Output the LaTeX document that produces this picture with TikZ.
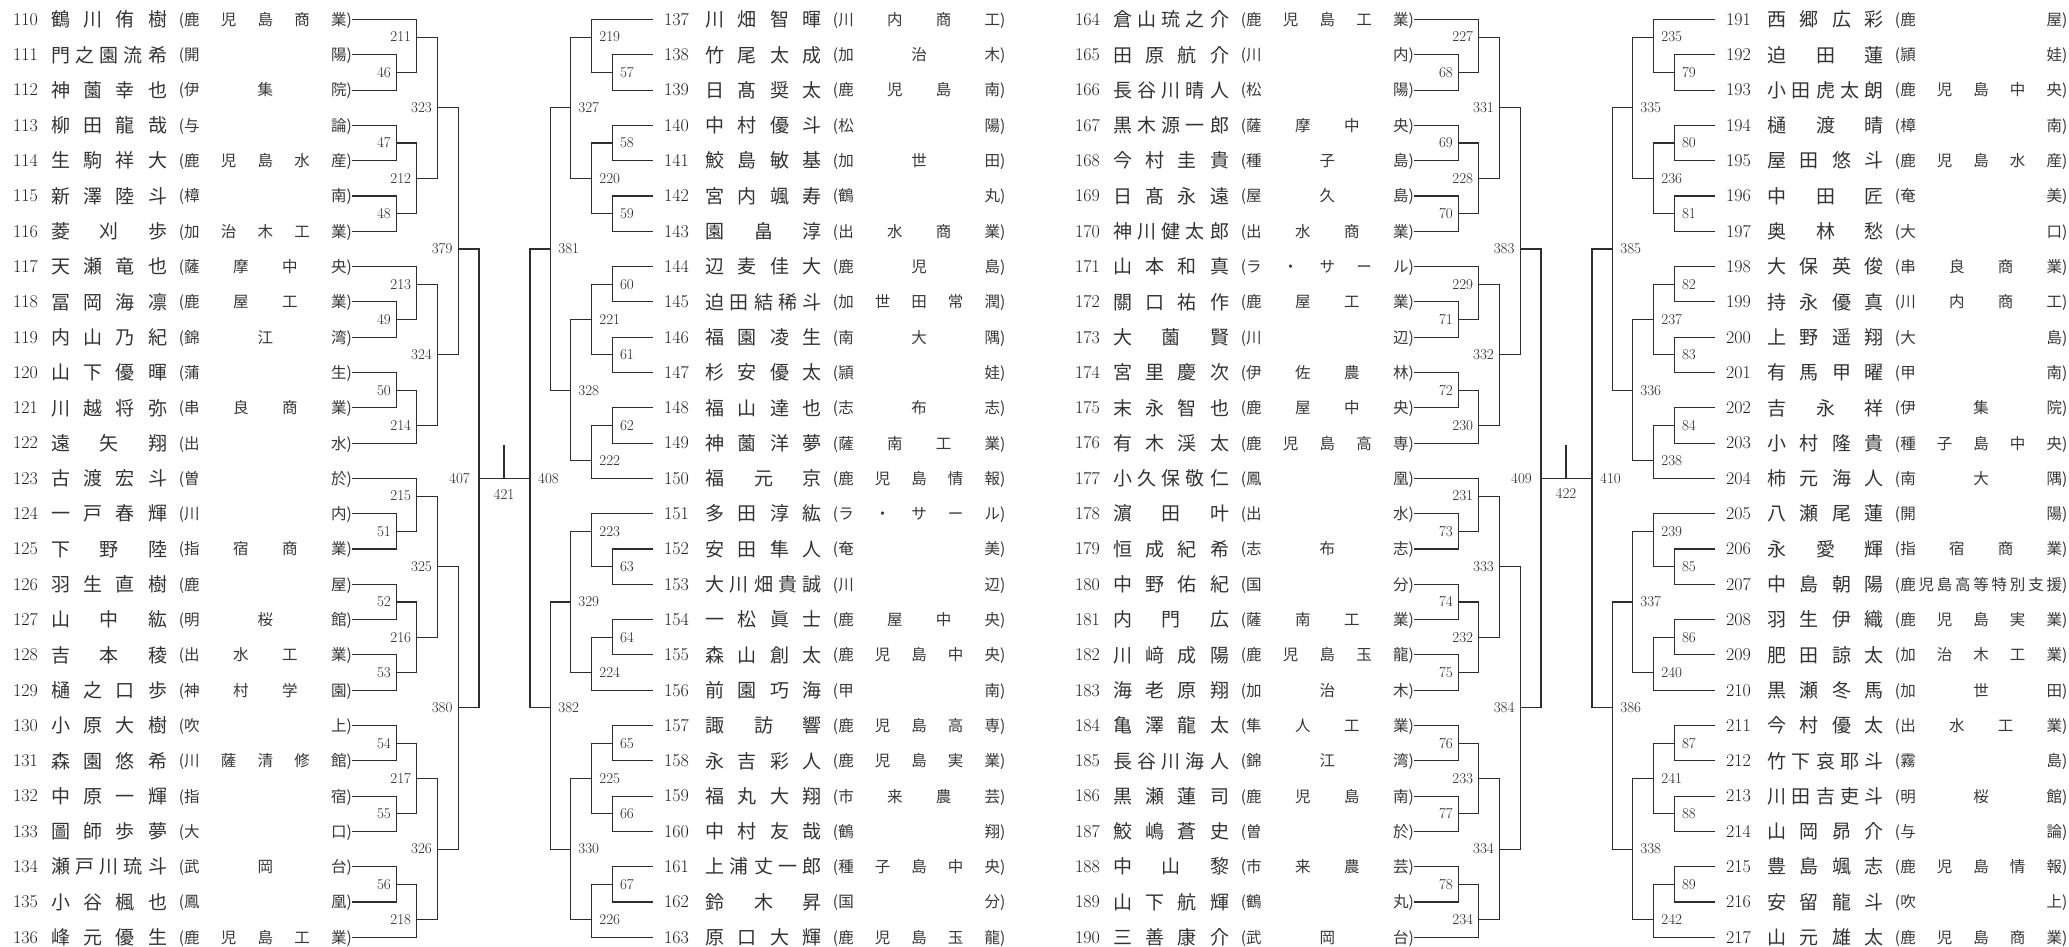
\documentclass[tikz,border=0pt]{standalone}
\usepackage{fontspec}
\newfontfamily\jp{Noto Sans CJK JP}
\tikzset{
  br/.style={line width=1.1pt, draw=black!82},
  lab/.style={font=\fontsize{15}{15}\selectfont, inner sep=0pt, text=black!85, text height=9.7pt, text depth=0pt},
  numst/.style={font=\fontsize{18}{18}\selectfont, anchor=west, inner sep=0pt, text=black!88, text height=11.6pt, text depth=0pt},
  namest/.style={font=\jp\fontsize{19}{19}\selectfont, inner sep=0pt, text=black!80, text height=15.8pt, text depth=1.3pt},
  schst/.style={font=\jp\fontsize{15.5}{15.5}\selectfont, inner sep=0pt, text=black!78, text height=12.9pt, text depth=1.1pt},
}
\newcommand{\SideLeft}{\def\ppNumx{13}\def\ppNa{51}\def\ppNb{167}\def\ppSa{184.2}\def\ppSb{346.5}\def\ppLx{352}}
\newcommand{\SideRight}{\def\ppNumx{664}\def\ppNa{705.5}\def\ppNb{821.5}\def\ppSa{838.3}\def\ppSb{1000}\def\ppLx{653.3}}
% #1 row, #2 number, #3 name count, #4 name chars, #5 school count, #6 school chars
\newcommand{\PLrow}[6]{%
  \pgfmathsetmacro\ppy{19.5+35.3*#1}
  \node[numst] (num#2) at (\ppX+\ppNumx,\ppy) {#2};
  \foreach \c [count=\k] in {#4} {
    \pgfmathsetmacro\cx{\ppX+\ppNa+9.5+(\k-1)*(\ppNb-\ppNa-19)/(#3-1)}
    \node[namest] (nm#2-\k) at (\cx,\ppy) {\c};
  }
  \foreach \c [count=\k] in {#6} {
    \pgfmathsetmacro\cx{\ppX+\ppSa+7.75+(\k-1)*(\ppSb-\ppSa-15.5)/(#5-1)}
    \node[schst] (sc#2-\k) at (\cx,\ppy) {\c};
  }
  \node[schst,anchor=east] (lp#2) at (\ppX+\ppSa,\ppy) {(};
  \node[schst,anchor=west] (rp#2) at (\ppX+\ppSb,\ppy) {)};
  \coordinate (p#2) at (\ppX+\ppLx,\ppy);
}
% #1 name, #2 child A, #3 child B, #4 x, #5 row of output, #6 label gap
\newcommand{\MTleft}[6]{%
  \pgfmathsetmacro\ppy{19.5+35.3*#5}
  \coordinate (m#1) at (#4,\ppy);
  \draw[br] (#2) -- (#2 -| m#1) -- (#3 -| m#1) -- (#3);
  \node[lab,anchor=east] (l#1) at ([xshift=-#6]m#1) {#1};
}
\newcommand{\MTright}[6]{%
  \pgfmathsetmacro\ppy{19.5+35.3*#5}
  \coordinate (m#1) at (#4,\ppy);
  \draw[br] (#2) -- (#2 -| m#1) -- (#3 -| m#1) -- (#3);
  \node[lab,anchor=west] (l#1) at ([xshift=#6]m#1) {#1};
}
\begin{document}
\begin{tikzpicture}[x=1pt,y=-1pt]
\fill[white] (0,0) rectangle (2069,947);
\useasboundingbox (0,0) rectangle (2069,947);

% ---------------- block 1 ----------------
\def\ppX{0}\SideLeft
\PLrow{0}{110}{4}{鶴,川,侑,樹}{5}{鹿,児,島,商,業}
\PLrow{1}{111}{5}{門,之,園,流,希}{2}{開,陽}
\PLrow{2}{112}{4}{神,薗,幸,也}{3}{伊,集,院}
\PLrow{3}{113}{4}{柳,田,龍,哉}{2}{与,論}
\PLrow{4}{114}{4}{生,駒,祥,大}{5}{鹿,児,島,水,産}
\PLrow{5}{115}{4}{新,澤,陸,斗}{2}{樟,南}
\PLrow{6}{116}{3}{菱,刈,歩}{5}{加,治,木,工,業}
\PLrow{7}{117}{4}{天,瀬,竜,也}{4}{薩,摩,中,央}
\PLrow{8}{118}{4}{冨,岡,海,凛}{4}{鹿,屋,工,業}
\PLrow{9}{119}{4}{内,山,乃,紀}{3}{錦,江,湾}
\PLrow{10}{120}{4}{山,下,優,暉}{2}{蒲,生}
\PLrow{11}{121}{4}{川,越,将,弥}{4}{串,良,商,業}
\PLrow{12}{122}{3}{遠,矢,翔}{2}{出,水}
\PLrow{13}{123}{4}{古,渡,宏,斗}{2}{曽,於}
\PLrow{14}{124}{4}{一,戸,春,輝}{2}{川,内}
\PLrow{15}{125}{3}{下,野,陸}{4}{指,宿,商,業}
\PLrow{16}{126}{4}{羽,生,直,樹}{2}{鹿,屋}
\PLrow{17}{127}{3}{山,中,紘}{3}{明,桜,館}
\PLrow{18}{128}{3}{吉,本,稜}{4}{出,水,工,業}
\PLrow{19}{129}{4}{樋,之,口,歩}{4}{神,村,学,園}
\PLrow{20}{130}{4}{小,原,大,樹}{2}{吹,上}
\PLrow{21}{131}{4}{森,園,悠,希}{5}{川,薩,清,修,館}
\PLrow{22}{132}{4}{中,原,一,輝}{2}{指,宿}
\PLrow{23}{133}{4}{圖,師,歩,夢}{2}{大,口}
\PLrow{24}{134}{5}{瀬,戸,川,琉,斗}{3}{武,岡,台}
\PLrow{25}{135}{4}{小,谷,楓,也}{2}{鳳,凰}
\PLrow{26}{136}{4}{峰,元,優,生}{5}{鹿,児,島,工,業}

% ---------------- block 2 ----------------
\def\ppX{0}\SideRight
\PLrow{0}{137}{4}{川,畑,智,暉}{4}{川,内,商,工}
\PLrow{1}{138}{4}{竹,尾,太,成}{3}{加,治,木}
\PLrow{2}{139}{4}{日,髙,奨,太}{4}{鹿,児,島,南}
\PLrow{3}{140}{4}{中,村,優,斗}{2}{松,陽}
\PLrow{4}{141}{4}{鮫,島,敏,基}{3}{加,世,田}
\PLrow{5}{142}{4}{宮,内,颯,寿}{2}{鶴,丸}
\PLrow{6}{143}{3}{園,畠,淳}{4}{出,水,商,業}
\PLrow{7}{144}{4}{辺,麦,佳,大}{3}{鹿,児,島}
\PLrow{8}{145}{5}{迫,田,結,稀,斗}{5}{加,世,田,常,潤}
\PLrow{9}{146}{4}{福,園,凌,生}{3}{南,大,隅}
\PLrow{10}{147}{4}{杉,安,優,太}{2}{頴,娃}
\PLrow{11}{148}{4}{福,山,達,也}{3}{志,布,志}
\PLrow{12}{149}{4}{神,薗,洋,夢}{4}{薩,南,工,業}
\PLrow{13}{150}{3}{福,元,京}{5}{鹿,児,島,情,報}
\PLrow{14}{151}{4}{多,田,淳,紘}{5}{ラ,・,サ,ー,ル}
\PLrow{15}{152}{4}{安,田,隼,人}{2}{奄,美}
\PLrow{16}{153}{5}{大,川,畑,貴,誠}{2}{川,辺}
\PLrow{17}{154}{4}{一,松,眞,士}{4}{鹿,屋,中,央}
\PLrow{18}{155}{4}{森,山,創,太}{5}{鹿,児,島,中,央}
\PLrow{19}{156}{4}{前,園,巧,海}{2}{甲,南}
\PLrow{20}{157}{3}{諏,訪,響}{5}{鹿,児,島,高,専}
\PLrow{21}{158}{4}{永,吉,彩,人}{5}{鹿,児,島,実,業}
\PLrow{22}{159}{4}{福,丸,大,翔}{4}{市,来,農,芸}
\PLrow{23}{160}{4}{中,村,友,哉}{2}{鶴,翔}
\PLrow{24}{161}{5}{上,浦,丈,一,郎}{5}{種,子,島,中,央}
\PLrow{25}{162}{3}{鈴,木,昇}{2}{国,分}
\PLrow{26}{163}{4}{原,口,大,輝}{5}{鹿,児,島,玉,龍}

% ---------------- block 3 ----------------
\def\ppX{1062}\SideLeft
\PLrow{0}{164}{5}{倉,山,琉,之,介}{5}{鹿,児,島,工,業}
\PLrow{1}{165}{4}{田,原,航,介}{2}{川,内}
\PLrow{2}{166}{5}{長,谷,川,晴,人}{2}{松,陽}
\PLrow{3}{167}{5}{黒,木,源,一,郎}{4}{薩,摩,中,央}
\PLrow{4}{168}{4}{今,村,圭,貴}{3}{種,子,島}
\PLrow{5}{169}{4}{日,髙,永,遠}{3}{屋,久,島}
\PLrow{6}{170}{5}{神,川,健,太,郎}{4}{出,水,商,業}
\PLrow{7}{171}{4}{山,本,和,真}{5}{ラ,・,サ,ー,ル}
\PLrow{8}{172}{4}{關,口,祐,作}{4}{鹿,屋,工,業}
\PLrow{9}{173}{3}{大,薗,賢}{2}{川,辺}
\PLrow{10}{174}{4}{宮,里,慶,次}{4}{伊,佐,農,林}
\PLrow{11}{175}{4}{末,永,智,也}{4}{鹿,屋,中,央}
\PLrow{12}{176}{4}{有,木,渓,太}{5}{鹿,児,島,高,専}
\PLrow{13}{177}{5}{小,久,保,敬,仁}{2}{鳳,凰}
\PLrow{14}{178}{3}{濵,田,叶}{2}{出,水}
\PLrow{15}{179}{4}{恒,成,紀,希}{3}{志,布,志}
\PLrow{16}{180}{4}{中,野,佑,紀}{2}{国,分}
\PLrow{17}{181}{3}{内,門,広}{4}{薩,南,工,業}
\PLrow{18}{182}{4}{川,﨑,成,陽}{5}{鹿,児,島,玉,龍}
\PLrow{19}{183}{4}{海,老,原,翔}{3}{加,治,木}
\PLrow{20}{184}{4}{亀,澤,龍,太}{4}{隼,人,工,業}
\PLrow{21}{185}{5}{長,谷,川,海,人}{3}{錦,江,湾}
\PLrow{22}{186}{4}{黒,瀬,蓮,司}{4}{鹿,児,島,南}
\PLrow{23}{187}{4}{鮫,嶋,蒼,史}{2}{曽,於}
\PLrow{24}{188}{3}{中,山,黎}{4}{市,来,農,芸}
\PLrow{25}{189}{4}{山,下,航,輝}{2}{鶴,丸}
\PLrow{26}{190}{4}{三,善,康,介}{3}{武,岡,台}

% ---------------- block 4 ----------------
\def\ppX{1062}\SideRight
\PLrow{0}{191}{4}{西,郷,広,彩}{2}{鹿,屋}
\PLrow{1}{192}{3}{迫,田,蓮}{2}{頴,娃}
\PLrow{2}{193}{5}{小,田,虎,太,朗}{5}{鹿,児,島,中,央}
\PLrow{3}{194}{3}{樋,渡,晴}{2}{樟,南}
\PLrow{4}{195}{4}{屋,田,悠,斗}{5}{鹿,児,島,水,産}
\PLrow{5}{196}{3}{中,田,匠}{2}{奄,美}
\PLrow{6}{197}{3}{奥,林,愁}{2}{大,口}
\PLrow{7}{198}{4}{大,保,英,俊}{4}{串,良,商,業}
\PLrow{8}{199}{4}{持,永,優,真}{4}{川,内,商,工}
\PLrow{9}{200}{4}{上,野,遥,翔}{2}{大,島}
\PLrow{10}{201}{4}{有,馬,甲,曜}{2}{甲,南}
\PLrow{11}{202}{3}{吉,永,祥}{3}{伊,集,院}
\PLrow{12}{203}{4}{小,村,隆,貴}{5}{種,子,島,中,央}
\PLrow{13}{204}{4}{柿,元,海,人}{3}{南,大,隅}
\PLrow{14}{205}{4}{八,瀬,尾,蓮}{2}{開,陽}
\PLrow{15}{206}{3}{永,愛,輝}{4}{指,宿,商,業}
\PLrow{16}{207}{4}{中,島,朝,陽}{9}{鹿,児,島,高,等,特,別,支,援}
\PLrow{17}{208}{4}{羽,生,伊,織}{5}{鹿,児,島,実,業}
\PLrow{18}{209}{4}{肥,田,諒,太}{5}{加,治,木,工,業}
\PLrow{19}{210}{4}{黒,瀬,冬,馬}{3}{加,世,田}
\PLrow{20}{211}{4}{今,村,優,太}{4}{出,水,工,業}
\PLrow{21}{212}{5}{竹,下,哀,耶,斗}{2}{霧,島}
\PLrow{22}{213}{5}{川,田,吉,吏,斗}{3}{明,桜,館}
\PLrow{23}{214}{4}{山,岡,昴,介}{2}{与,論}
\PLrow{24}{215}{4}{豊,島,颯,志}{5}{鹿,児,島,情,報}
\PLrow{25}{216}{4}{安,留,龍,斗}{2}{吹,上}
\PLrow{26}{217}{4}{山,元,雄,太}{5}{鹿,児,島,商,業}

% ---------------- brackets block 1 ----------------
\MTleft{46}{p111}{p112}{396.5}{1.5}{5.5pt}
\MTleft{211}{p110}{m46}{416.8}{0.5}{5.5pt}
\MTleft{47}{p113}{p114}{396.5}{3.5}{5.5pt}
\MTleft{48}{p115}{p116}{396.5}{5.5}{5.5pt}
\MTleft{212}{m47}{m48}{416.8}{4.5}{5.5pt}
\MTleft{323}{m211}{m212}{437.5}{2.5}{5.5pt}
\MTleft{49}{p118}{p119}{396.5}{8.5}{5.5pt}
\MTleft{213}{p117}{m49}{416.8}{7.5}{5.5pt}
\MTleft{50}{p120}{p121}{396.5}{10.5}{5.5pt}
\MTleft{214}{m50}{p122}{416.8}{11.5}{5.5pt}
\MTleft{324}{m213}{m214}{437.5}{9.5}{5.5pt}
\MTleft{379}{m323}{m324}{458.2}{6.5}{5.5pt}
\MTleft{51}{p124}{p125}{396.5}{14.5}{5.5pt}
\MTleft{215}{p123}{m51}{416.8}{13.5}{5.5pt}
\MTleft{52}{p126}{p127}{396.5}{16.5}{5.5pt}
\MTleft{53}{p128}{p129}{396.5}{18.5}{5.5pt}
\MTleft{216}{m52}{m53}{416.8}{17.5}{5.5pt}
\MTleft{325}{m215}{m216}{437.5}{15.5}{5.5pt}
\MTleft{54}{p130}{p131}{396.5}{20.5}{5.5pt}
\MTleft{55}{p132}{p133}{396.5}{22.5}{5.5pt}
\MTleft{217}{m54}{m55}{416.8}{21.5}{5.5pt}
\MTleft{56}{p134}{p135}{396.5}{24.5}{5.5pt}
\MTleft{218}{m56}{p136}{416.8}{25.5}{5.5pt}
\MTleft{326}{m217}{m218}{437.5}{23.5}{5.5pt}
\MTleft{380}{m325}{m326}{458.2}{19.5}{5.5pt}
\MTleft{407}{m379}{m380}{479}{13}{9pt}

% ---------------- brackets block 2 ----------------
\MTright{57}{p138}{p139}{612.3}{1.5}{7.5pt}
\MTright{219}{p137}{m57}{591.7}{0.5}{7.5pt}
\MTright{58}{p140}{p141}{612.3}{3.5}{7.5pt}
\MTright{59}{p142}{p143}{612.3}{5.5}{7.5pt}
\MTright{220}{m58}{m59}{591.7}{4.5}{7.5pt}
\MTright{327}{m219}{m220}{570.7}{2.5}{7.5pt}
\MTright{60}{p144}{p145}{612.3}{7.5}{7.5pt}
\MTright{61}{p146}{p147}{612.3}{9.5}{7.5pt}
\MTright{221}{m60}{m61}{591.7}{8.5}{7.5pt}
\MTright{62}{p148}{p149}{612.3}{11.5}{7.5pt}
\MTright{222}{m62}{p150}{591.7}{12.5}{7.5pt}
\MTright{328}{m221}{m222}{570.7}{10.5}{7.5pt}
\MTright{381}{m327}{m328}{550.7}{6.5}{7.5pt}
\MTright{63}{p152}{p153}{612.3}{15.5}{7.5pt}
\MTright{223}{p151}{m63}{591.7}{14.5}{7.5pt}
\MTright{64}{p154}{p155}{612.3}{17.5}{7.5pt}
\MTright{224}{m64}{p156}{591.7}{18.5}{7.5pt}
\MTright{329}{m223}{m224}{570.7}{16.5}{7.5pt}
\MTright{65}{p157}{p158}{612.3}{20.5}{7.5pt}
\MTright{66}{p159}{p160}{612.3}{22.5}{7.5pt}
\MTright{225}{m65}{m66}{591.7}{21.5}{7.5pt}
\MTright{67}{p161}{p162}{612.3}{24.5}{7.5pt}
\MTright{226}{m67}{p163}{591.7}{25.5}{7.5pt}
\MTright{330}{m225}{m226}{570.7}{23.5}{7.5pt}
\MTright{382}{m329}{m330}{550.7}{19.5}{7.5pt}
\MTright{408}{m381}{m382}{530}{13}{8pt}

% ---------------- brackets block 3 ----------------
\MTleft{68}{p165}{p166}{1458.5}{1.5}{5.5pt}
\MTleft{227}{p164}{m68}{1478.8}{0.5}{5.5pt}
\MTleft{69}{p167}{p168}{1458.5}{3.5}{5.5pt}
\MTleft{70}{p169}{p170}{1458.5}{5.5}{5.5pt}
\MTleft{228}{m69}{m70}{1478.8}{4.5}{5.5pt}
\MTleft{331}{m227}{m228}{1499.5}{2.5}{5.5pt}
\MTleft{71}{p172}{p173}{1458.5}{8.5}{5.5pt}
\MTleft{229}{p171}{m71}{1478.8}{7.5}{5.5pt}
\MTleft{72}{p174}{p175}{1458.5}{10.5}{5.5pt}
\MTleft{230}{m72}{p176}{1478.8}{11.5}{5.5pt}
\MTleft{332}{m229}{m230}{1499.5}{9.5}{5.5pt}
\MTleft{383}{m331}{m332}{1520.2}{6.5}{5.5pt}
\MTleft{73}{p178}{p179}{1458.5}{14.5}{5.5pt}
\MTleft{231}{p177}{m73}{1478.8}{13.5}{5.5pt}
\MTleft{74}{p180}{p181}{1458.5}{16.5}{5.5pt}
\MTleft{75}{p182}{p183}{1458.5}{18.5}{5.5pt}
\MTleft{232}{m74}{m75}{1478.8}{17.5}{5.5pt}
\MTleft{333}{m231}{m232}{1499.5}{15.5}{5.5pt}
\MTleft{76}{p184}{p185}{1458.5}{20.5}{5.5pt}
\MTleft{77}{p186}{p187}{1458.5}{22.5}{5.5pt}
\MTleft{233}{m76}{m77}{1478.8}{21.5}{5.5pt}
\MTleft{78}{p188}{p189}{1458.5}{24.5}{5.5pt}
\MTleft{234}{m78}{p190}{1478.8}{25.5}{5.5pt}
\MTleft{334}{m233}{m234}{1499.5}{23.5}{5.5pt}
\MTleft{384}{m333}{m334}{1520.2}{19.5}{5.5pt}
\MTleft{409}{m383}{m384}{1541}{13}{9pt}

% ---------------- brackets block 4 ----------------
\MTright{79}{p192}{p193}{1674.3}{1.5}{7.5pt}
\MTright{235}{p191}{m79}{1653.7}{0.5}{7.5pt}
\MTright{80}{p194}{p195}{1674.3}{3.5}{7.5pt}
\MTright{81}{p196}{p197}{1674.3}{5.5}{7.5pt}
\MTright{236}{m80}{m81}{1653.7}{4.5}{7.5pt}
\MTright{335}{m235}{m236}{1632.7}{2.5}{7.5pt}
\MTright{82}{p198}{p199}{1674.3}{7.5}{7.5pt}
\MTright{83}{p200}{p201}{1674.3}{9.5}{7.5pt}
\MTright{237}{m82}{m83}{1653.7}{8.5}{7.5pt}
\MTright{84}{p202}{p203}{1674.3}{11.5}{7.5pt}
\MTright{238}{m84}{p204}{1653.7}{12.5}{7.5pt}
\MTright{336}{m237}{m238}{1632.7}{10.5}{7.5pt}
\MTright{385}{m335}{m336}{1612.7}{6.5}{7.5pt}
\MTright{85}{p206}{p207}{1674.3}{15.5}{7.5pt}
\MTright{239}{p205}{m85}{1653.7}{14.5}{7.5pt}
\MTright{86}{p208}{p209}{1674.3}{17.5}{7.5pt}
\MTright{240}{m86}{p210}{1653.7}{18.5}{7.5pt}
\MTright{337}{m239}{m240}{1632.7}{16.5}{7.5pt}
\MTright{87}{p211}{p212}{1674.3}{20.5}{7.5pt}
\MTright{88}{p213}{p214}{1674.3}{22.5}{7.5pt}
\MTright{241}{m87}{m88}{1653.7}{21.5}{7.5pt}
\MTright{89}{p215}{p216}{1674.3}{24.5}{7.5pt}
\MTright{242}{m89}{p217}{1653.7}{25.5}{7.5pt}
\MTright{338}{m241}{m242}{1632.7}{23.5}{7.5pt}
\MTright{386}{m337}{m338}{1612.7}{19.5}{7.5pt}
\MTright{410}{m385}{m386}{1592}{13}{8pt}

% ---------------- finals ----------------
\draw[br] (m407) -- (m408);
\draw[br] (m409) -- (m410);
\coordinate (f421) at (504,478.4);
\coordinate (t421) at (504,445);
\draw[br] (t421) -- (f421);
\node[lab] (l421) at ([yshift=-16pt]f421) {421};
\coordinate (f422) at (1566,478.4);
\coordinate (t422) at (1566,445);
\draw[br] (t422) -- (f422);
\node[lab] (l422) at ([yshift=-15pt]f422) {422};
\draw[line width=2.1pt, black!82] ([yshift=8pt]m407) -- ([yshift=-19pt]m407);
\draw[line width=2.1pt, black!82] ([yshift=8pt]m409) -- ([yshift=-19pt]m409);
\end{tikzpicture}
\end{document}
